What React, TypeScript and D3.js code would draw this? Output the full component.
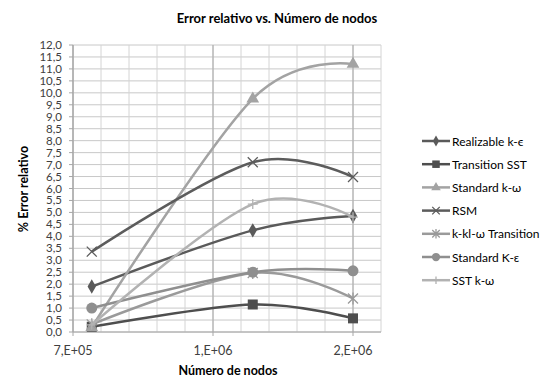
import React from "react";
import * as d3 from "d3";

const nodes = [767000, 1342000, 1700000];
const seriesNames = [
  "Realizable k-ϵ",
  "Transition SST",
  "Standard k-ω",
  "RSM",
  "k-kl-ω Transition",
  "Standard Κ-ε",
  "SST k-ω",
];
const realizable = [1.9, 4.25, 4.85];
const transitionSST = [0.22, 1.15, 0.57];
const standardKw = [0.2, 9.75, 11.2];
const rsm = [3.36, 7.1, 6.48];
const kklw = [0.32, 2.47, 1.4];
const standardKe = [1.0, 2.5, 2.56];
const sstKw = [0.3, 5.35, 4.8];
const seriesValues = [realizable, transitionSST, standardKw, rsm, kklw, standardKe, sstKw];
const seriesColors = ["#5a5a5a", "#4e4e4e", "#a3a3a3", "#5c5c5c", "#9a9a9a", "#8f8f8f", "#b2b2b2"];
const markerKinds = ["diamond", "square", "triangle", "x", "star", "circle", "plus"];

const xTickValues = [700000, 1200000, 1700000];
const xTickLabels = ["7,E+05", "1,E+06", "2,E+06"];

const FONT = "Lato, 'Open Sans', sans-serif";

function Marker({ kind, x, y, color, scale = 1 }: { kind: string; x: number; y: number; color: string; scale?: number }) {
  const s = 5 * scale;
  if (kind === "diamond") {
    const p = d3.symbol(d3.symbolDiamond, 60 * scale * scale)();
    return <path d={p || ""} transform={`translate(${x},${y})`} fill={color} />;
  }
  if (kind === "square") {
    return <rect x={x - s} y={y - s} width={2 * s} height={2 * s} fill={color} />;
  }
  if (kind === "triangle") {
    const p = d3.symbol(d3.symbolTriangle, 70 * scale * scale)();
    return <path d={p || ""} transform={`translate(${x},${y})`} fill={color} />;
  }
  if (kind === "circle") {
    return <circle cx={x} cy={y} r={5.5 * scale} fill={color} />;
  }
  if (kind === "x") {
    return (
      <path
        d={`M${x - s},${y - s}L${x + s},${y + s}M${x - s},${y + s}L${x + s},${y - s}`}
        stroke={color}
        strokeWidth={1.3}
        fill="none"
      />
    );
  }
  if (kind === "star") {
    return (
      <path
        d={`M${x - s},${y - s}L${x + s},${y + s}M${x - s},${y + s}L${x + s},${y - s}M${x},${y - s - 1}L${x},${y + s + 1}`}
        stroke={color}
        strokeWidth={1.3}
        fill="none"
      />
    );
  }
  return (
    <path d={`M${x - s},${y}L${x + s},${y}M${x},${y - s}L${x},${y + s}`} stroke={color} strokeWidth={1.3} fill="none" />
  );
}

export default function App() {
  const W = 556;
  const H = 377;
  const left = 73;
  const right = 381;
  const top = 45;
  const bottom = 332;

  const x = d3.scaleLinear().domain([700000, 1800000]).range([left, right]);
  const y = d3.scaleLinear().domain([0, 12]).range([bottom, top]);

  const yTicks = d3.range(0, 12.001, 0.5);
  const xMinor = d3.range(700000, 1800001, 100000);
  const fmtY = (v: number) => d3.format(".1f")(v).replace(".", ",");

  const line = d3
    .line<[number, number]>()
    .x((d) => x(d[0]))
    .y((d) => y(d[1]))
    .curve(d3.curveCardinal.tension(0));

  const legendY0 = 141;
  const legendStep = 23.2;

  return (
    <svg
      width={W}
      height={H}
      style={{ position: "absolute", left: 0, top: 0, background: "#fff" }}
      fontFamily={FONT}
    >
      <rect x={0} y={0} width={W} height={H} fill="#fff" />
      {yTicks.map((t) => (
        <line key={"h" + t} x1={left} x2={right} y1={y(t)} y2={y(t)} stroke="#c8c8c8" strokeWidth={1} />
      ))}
      {xMinor.map((t) => (
        <line key={"v" + t} x1={x(t)} x2={x(t)} y1={top} y2={bottom} stroke="#d4d4d4" strokeWidth={1} />
      ))}
      {xTickValues.map((t) => (
        <line key={"vm" + t} x1={x(t)} x2={x(t)} y1={top} y2={bottom} stroke="#a6a6a6" strokeWidth={1} />
      ))}
      <line x1={left} x2={left} y1={top} y2={bottom} stroke="#a6a6a6" />
      <line x1={left} x2={right} y1={bottom} y2={bottom} stroke="#a6a6a6" />
      {yTicks.map((t) => (
        <line key={"yt" + t} x1={left - 4} x2={left} y1={y(t)} y2={y(t)} stroke="#a6a6a6" />
      ))}
      {xTickValues.map((t) => (
        <line key={"xt" + t} x1={x(t)} x2={x(t)} y1={bottom} y2={bottom + 4} stroke="#a6a6a6" />
      ))}
      {yTicks.map((t) => (
        <text key={"yl" + t} x={62} y={y(t) + 4} textAnchor="end" fontSize={11.5} fill="#404040">
          {fmtY(t)}
        </text>
      ))}
      {xTickValues.map((t, i) => (
        <text key={"xl" + t} x={x(t)} y={355} textAnchor="middle" fontSize={12.5} fill="#404040">
          {xTickLabels[i]}
        </text>
      ))}
      {seriesValues.map((vals, si) => {
        const pts: [number, number][] = vals.map((v, i) => [nodes[i], v]);
        return (
          <g key={"s" + si}>
            <path d={line(pts) || ""} fill="none" stroke={seriesColors[si]} strokeWidth={2.5} />
            {pts.map((p, i) => (
              <Marker key={i} kind={markerKinds[si]} x={x(p[0])} y={y(p[1])} color={seriesColors[si]} />
            ))}
          </g>
        );
      })}
      <text x={277} y={23} textAnchor="middle" fontSize={13} fontWeight="bold" fill="#000">
        Error relativo vs. Número de nodos
      </text>
      <text
        transform={`translate(28,189) rotate(-90)`}
        textAnchor="middle"
        fontSize={12.5}
        fontWeight="bold"
        fill="#000"
      >
        % Error relativo
      </text>
      <text x={228} y={375} textAnchor="middle" fontSize={12.5} fontWeight="bold" fill="#000">
        Número  de nodos
      </text>
      {seriesNames.map((name, i) => {
        const ly = legendY0 + i * legendStep;
        return (
          <g key={"lg" + i}>
            <line x1={422} x2={450} y1={ly} y2={ly} stroke={seriesColors[i]} strokeWidth={2.5} />
            <Marker kind={markerKinds[i]} x={436} y={ly} color={seriesColors[i]} scale={0.75} />
            <text x={452} y={ly + 4.5} fontSize={12} fill="#000">
              {name}
            </text>
          </g>
        );
      })}
    </svg>
  );
}
